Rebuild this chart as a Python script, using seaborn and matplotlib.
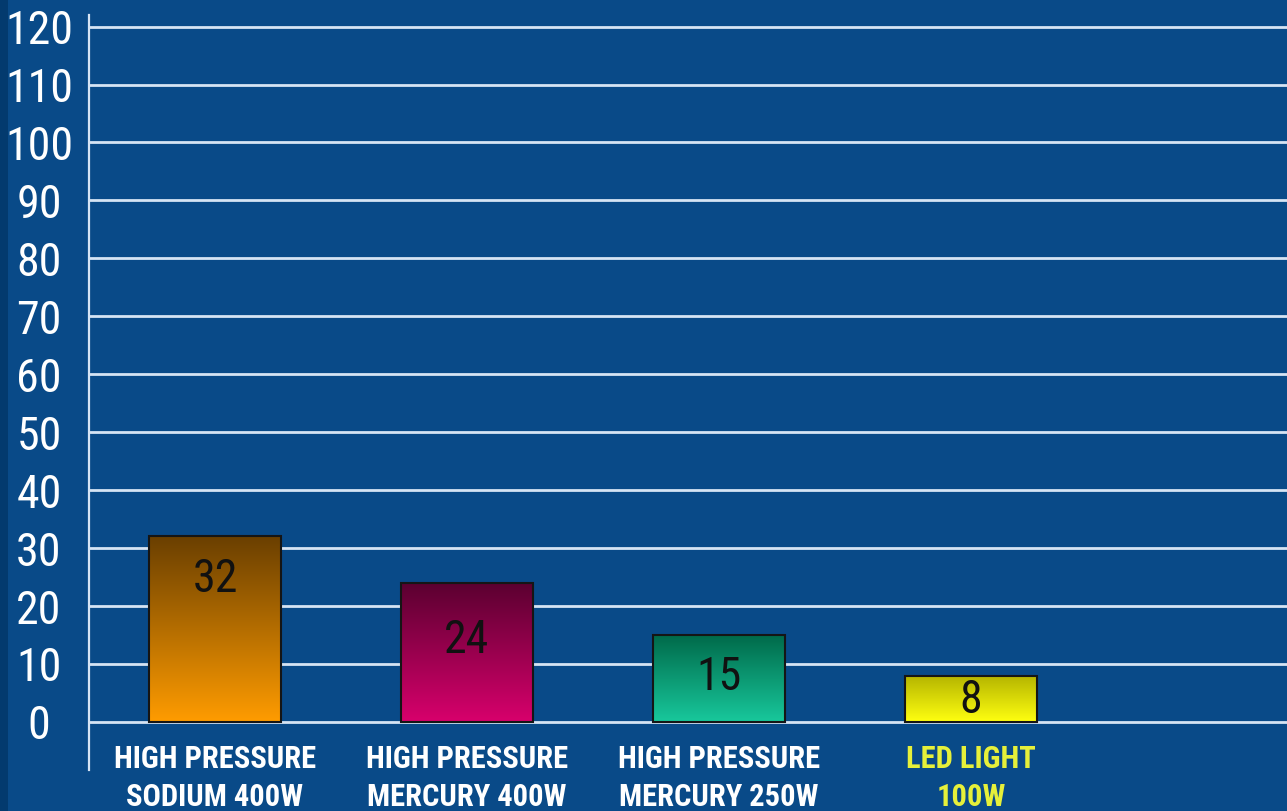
import numpy as np
import seaborn as sns
import matplotlib.pyplot as plt
from matplotlib import font_manager
from matplotlib.colors import LinearSegmentedColormap
from matplotlib.patches import Rectangle

# Chart data
lamps = ['HIGH PRESSURE\nSODIUM 400W', 'HIGH PRESSURE\nMERCURY 400W',
         'HIGH PRESSURE\nMERCURY 250W', 'LED LIGHT\n100W']
values = [32, 24, 15, 8]
y_ticks = list(range(0, 121, 10))

# gradient colours (top, bottom) for each bar
top_colors = ['#6a3f00', '#5a0030', '#006a4a', '#b4b400']
bottom_colors = ['#ff9c00', '#d8006c', '#18c89c', '#ffff10']
label_colors = ['white', 'white', 'white', '#e6f03a']
# where the value text sits, as a fraction of bar height
label_frac = [0.77, 0.59, 0.52, 0.47]

bg = '#094a88'
grid_c = '#d6e4f4'

# pick a condensed face if one is installed
installed = {f.name for f in font_manager.fontManager.ttflist}
narrow_found = None
for name in ['Liberation Sans Narrow', 'Roboto Condensed', 'Open Sans Condensed']:
    if name in installed:
        narrow_found = name
        break
if narrow_found:
    fam = [narrow_found, 'DejaVu Sans']
    tick_size, val_size, cat_size = 33, 33, 22
else:
    fam = ['Liberation Sans', 'DejaVu Sans']
    tick_size, val_size, cat_size = 29, 30, 17

sns.set_style('white')
plt.rcParams['font.family'] = fam

fig = plt.figure(figsize=(12.87, 8.11), dpi=100)
fig.patch.set_facecolor(bg)
fig.patches.append(Rectangle((0, 0), 8 / 1287, 1, transform=fig.transFigure,
                             facecolor='#033a6e', edgecolor='none', zorder=0))
ax = fig.add_axes([89 / 1287, 41 / 811, 1 - 89 / 1287, 755 / 811])
ax.set_facecolor(bg)

sns.barplot(x=lamps, y=values, ax=ax, width=0.524, color='white',
            edgecolor='#151515', linewidth=1.5, zorder=3)

# gradient fill clipped to each bar
for i, patch in enumerate(ax.patches):
    x0, y0 = patch.get_x(), patch.get_y()
    w, h = patch.get_width(), patch.get_height()
    cmap = LinearSegmentedColormap.from_list('g', [bottom_colors[i], top_colors[i]])
    grad = np.linspace(0, 1, 256).reshape(-1, 1)
    im = ax.imshow(grad, extent=[x0, x0 + w, y0, y0 + h], origin='lower',
                   aspect='auto', cmap=cmap, zorder=2.9)
    im.set_clip_path(patch)
    patch.set_facecolor('none')
    ax.text(x0 + w / 2, y0 + h * label_frac[i], str(values[i]), ha='center',
            va='center', fontsize=val_size, color='#111111', zorder=4)

ax.set_xlim(-0.5, 4.254)
ax.set_ylim(-8.3, 122)

# gridlines and axis
ax.set_yticks(y_ticks)
ax.yaxis.grid(True, color=grid_c, linewidth=2)
ax.xaxis.grid(False)
ax.set_axisbelow(True)
for s in ['top', 'right', 'bottom']:
    ax.spines[s].set_visible(False)
ax.spines['left'].set_color(grid_c)
ax.spines['left'].set_linewidth(1.6)

ax.tick_params(axis='y', colors=grid_c, length=17, width=2, pad=19,
               labelsize=tick_size, labelcolor='white')
for lbl in ax.get_yticklabels():
    lbl.set_horizontalalignment('center')

ax.tick_params(axis='x', length=0, pad=-19, labelsize=cat_size)
for lbl, c in zip(ax.get_xticklabels(), label_colors):
    lbl.set_color(c)
    lbl.set_fontweight('bold')
    lbl.set_linespacing(1.35)
    lbl.set_verticalalignment('top')

ax.set_xlabel('')
ax.set_ylabel('')

fig.savefig('out.png', dpi=100, facecolor=bg)
